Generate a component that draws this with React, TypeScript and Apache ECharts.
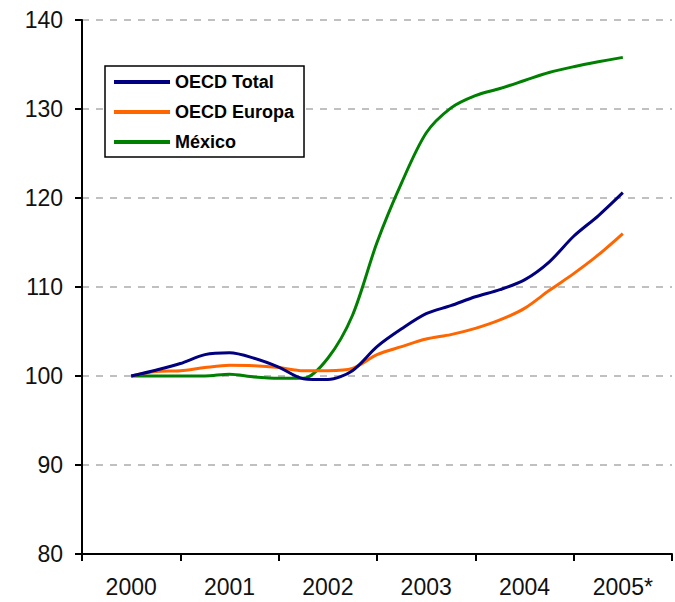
import React, { useEffect, useRef } from "react";
import * as echarts from "echarts";

// Year labels on the x axis
const years = ["2000", "2001", "2002", "2003", "2004", "2005*"];

// Quarterly index values (2000 = 100), from 2000 to 2005
const oecdTotal = [
  100, 100.65, 101.4, 102.4, 102.6, 102.0, 101.0, 99.7, 99.6, 100.6, 103.3,
  105.3, 107.0, 107.9, 108.9, 109.7, 110.8, 112.8, 115.7, 118.0, 120.6,
];
const oecdEuropa = [
  100, 100.5, 100.6, 100.95, 101.2, 101.15, 100.95, 100.6, 100.6, 100.85, 102.4,
  103.3, 104.15, 104.65, 105.35, 106.3, 107.6, 109.6, 111.5, 113.6, 116.0,
];
const mexico = [
  100, 100, 100, 100, 100.2, 99.9, 99.75, 99.75, 102.0, 106.8, 115.0, 121.7,
  127.3, 130.1, 131.5, 132.3, 133.2, 134.1, 134.75, 135.3, 135.8,
];

const seriesNames = ["OECD Total", "OECD Europa", "México"];
const seriesColors = ["#000080", "#FF6600", "#008000"];

const yTicks = { min: 80, max: 140, interval: 10 };

const FONT = "'Liberation Sans', Arial, sans-serif";

function toPoints(values: number[]) {
  // each value is one quarter; 4 quarters per year category
  return values.map((v, i) => [i / 4, v]);
}

export default function App() {
  const ref = useRef<HTMLDivElement>(null);

  useEffect(() => {
    if (!ref.current) return;
    const chart = echarts.init(ref.current, undefined, { renderer: "svg" });
    const allSeries = [oecdTotal, oecdEuropa, mexico];
    chart.setOption({
      animation: false,
      backgroundColor: "#ffffff",
      grid: { left: 82, right: 3, top: 20, bottom: 48, containLabel: false },
      legend: {
        orient: "vertical",
        left: 105,
        top: 66,
        width: 195,
        padding: [6, 10, 5, 9],
        borderColor: "#000",
        borderWidth: 1.5,
        backgroundColor: "#fff",
        icon: "rect",
        itemWidth: 56,
        itemHeight: 4,
        itemGap: 10,
        data: seriesNames,
        textStyle: {
          fontFamily: FONT,
          fontSize: 18,
          fontWeight: "bold",
          color: "#000",
          lineHeight: 20,
        },
      },
      xAxis: [
        {
          type: "category",
          data: years,
          boundaryGap: true,
          axisLine: { show: true, lineStyle: { color: "#000", width: 2 } },
          axisTick: { show: true, length: 7, lineStyle: { color: "#000", width: 2 } },
          axisLabel: {
            margin: 21,
            fontFamily: FONT,
            fontSize: 23,
            color: "#111",
          },
          splitLine: { show: false },
        },
        {
          type: "value",
          min: -0.5,
          max: 5.5,
          show: false,
          axisLine: { show: false, onZero: false },
          splitLine: { show: false },
        },
      ],
      yAxis: {
        type: "value",
        min: yTicks.min,
        max: yTicks.max,
        interval: yTicks.interval,
        axisLine: { show: true, onZero: false, lineStyle: { color: "#000", width: 2 } },
        axisTick: { show: true, length: 7, lineStyle: { color: "#000", width: 2 } },
        axisLabel: {
          margin: 19,
          fontFamily: FONT,
          fontSize: 23,
          color: "#111",
        },
        splitLine: {
          show: true,
          lineStyle: { color: "#c0c0c0", width: 2, type: [7, 7] },
        },
      },
      series: allSeries.map((vals, k) => ({
        name: seriesNames[k],
        type: "line",
        xAxisIndex: 1,
        data: toPoints(vals),
        smooth: 0.3,
        symbol: "none",
        showSymbol: false,
        lineStyle: { color: seriesColors[k], width: 3 },
        itemStyle: { color: seriesColors[k] },
        z: 3 + (2 - k),
      })),
    });
    return () => chart.dispose();
  }, []);

  return (
    <div
      ref={ref}
      style={{ position: "absolute", left: 0, top: 0, width: 675, height: 602 }}
    />
  );
}
